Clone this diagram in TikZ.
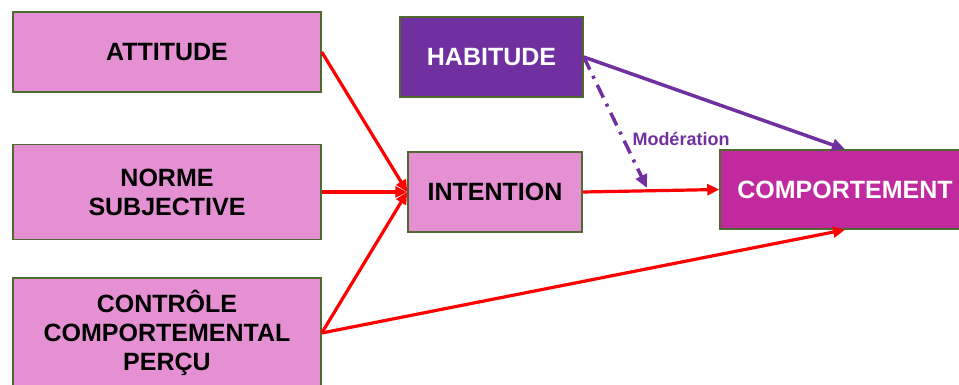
\documentclass[tikz,border=0pt]{standalone}
\usepackage{fontspec}
\setmainfont{Liberation Sans}
\usetikzlibrary{arrows.meta,calc}
\definecolor{rosebox}{HTML}{E590D2}
\definecolor{violethab}{HTML}{7030A0}
\definecolor{magcomp}{HTML}{C02A9E}
\definecolor{bordvert}{HTML}{4F6A2E}
\definecolor{rougefl}{HTML}{FF0000}
\tikzset{
	boite/.style={draw=bordvert, line width=1.5pt, minimum height=80pt, align=center, font=\fontsize{25}{29}\selectfont\bfseries},
	fleche/.style={line width=3.2pt, color=rougefl, -{Triangle[length=12pt,width=11pt]}},
	flechehab/.style={line width=3.5pt, color=violethab, -{Triangle[length=13pt,width=12pt]}},
}

\begin{document}
\begin{tikzpicture}[x=1pt,y=-1pt]
			%%%%% CADRE %%%%%
			\useasboundingbox (0,0) rectangle (959,385);
			\clip (0,0) rectangle (959,385);
			
			%%%%% BOITES %%%%%
			\node[boite, fill=rosebox, minimum width=308pt] (attitude) at (167,52) {ATTITUDE};
			\node[boite, fill=rosebox, minimum width=308pt, minimum height=95pt] (norme) at (167,192) {NORME\\SUBJECTIVE};
			\node[boite, fill=rosebox, minimum width=308pt, minimum height=110pt] (controle) at (167,333) {CONTRÔLE\\COMPORTEMENTAL\\PERÇU};
			\node[boite, fill=violethab, text=white, minimum width=183pt] (habitude) at (491.5,57) {HABITUDE};
			\node[boite, fill=rosebox, minimum width=174pt] (intention) at (495,192) {INTENTION};
			\node[boite, fill=magcomp, text=white, minimum width=250pt, minimum height=79pt] (comportement) at (845,189.5) {COMPORTEMENT};
			
			%%%%% FLECHES %%%%%
			\draw[fleche] (attitude.east) -- (intention.west);
			\draw[fleche] (norme.east) -- (intention.west);
			\draw[fleche] (controle.east) -- (intention.west);
			\draw[fleche] (intention.east) -- (comportement.west);
			\draw[fleche] (controle.east) -- (comportement.south);
			
			\draw[flechehab] (habitude.east) -- (comportement.north);
			
			\coordinate (moderation) at ($(intention.east)!0.47!(comportement.west)+(0,-3)$);
			\draw[flechehab, dash pattern=on 14pt off 7pt on 3pt off 7pt] (habitude.east) -- (moderation);
			\node[text=violethab, font=\fontsize{18}{21}\selectfont\bfseries] (modlabel) at (681,139) {Modération};
\end{tikzpicture}
\end{document}
